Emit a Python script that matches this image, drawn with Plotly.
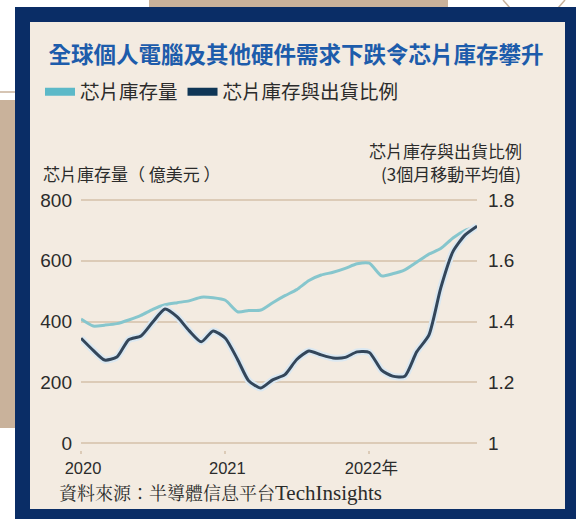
import pandas as pd
import plotly.graph_objects as go

# ---- data (monthly, Jan 2020 - Oct 2022) ----
months = pd.date_range("2020-01-01", periods=34, freq="MS")
inventory = [408, 385, 388, 393, 405, 420, 440, 455, 462, 468, 480, 478,
             470, 432, 436, 438, 462, 485, 505, 535, 553, 562, 575, 590,
             592, 550, 557, 570, 595, 622, 640, 675, 700, 714]
ratio = [1.345, 1.305, 1.273, 1.283, 1.340, 1.352, 1.398, 1.441, 1.415, 1.370, 1.333, 1.369,
         1.345, 1.275, 1.205, 1.181, 1.208, 1.225, 1.275, 1.303, 1.290, 1.280, 1.282, 1.300,
         1.298, 1.240, 1.220, 1.220, 1.300, 1.355, 1.510, 1.630, 1.685, 1.714]
left_ticks = [0, 200, 400, 600, 800]
right_ticks = [1, 1.2, 1.4, 1.6, 1.8]
right_ticktext = ["1", "1.2", "1.4", "1.6", "1.8"]
x_tickvals = ["2020-01-01", "2021-01-01", "2022-01-01"]
x_ticktext = ["2020", "2021", "2022年"]
name_inv = "芯片庫存量"
name_ratio = "芯片庫存與出貨比例"

W, H = 576, 519
ML, MR, MT, MB = 81, 99, 190, 69
PW, PH = W - ML - MR, H - MT - MB

def px(x):
    return (x - ML) / PW

def py(y):
    return (H - MB - y) / PH

LIGHT = "#86c6cd"
DARK = "#33465a"
TXT = "#2b2b2b"
GRID = "#dccbb7"
FONT = "Liberation Sans, Noto Sans CJK TC, sans-serif"
CJK = "Noto Sans CJK TC, sans-serif"

fig = go.Figure()
fig.add_trace(go.Scatter(x=months, y=inventory, mode="lines", name=name_inv,
                         line=dict(color=LIGHT, width=3, shape="spline", smoothing=0.6),
                         showlegend=False, hoverinfo="skip"))
fig.add_trace(go.Scatter(x=months, y=ratio, yaxis="y2", mode="lines", name=name_ratio + " halo",
                         line=dict(color="#dbe8f1", width=7, shape="spline", smoothing=0.6),
                         showlegend=False, hoverinfo="skip"))
fig.add_trace(go.Scatter(x=months, y=ratio, yaxis="y2", mode="lines", name=name_ratio,
                         line=dict(color=DARK, width=3, shape="spline", smoothing=0.6),
                         showlegend=False))
# legend swatches
fig.add_trace(go.Scatter(x=[None], y=[None], mode="lines", name=name_inv,
                         line=dict(color="#5cb9c8", width=8)))
fig.add_trace(go.Scatter(x=[None], y=[None], mode="lines", name=name_ratio,
                         line=dict(color="#0f3656", width=8)))

u = 800 / (443 - 200)
ymin = -(450 - 443) * u
ymax = 800 + (200 - 190) * u

shapes = [
    # decorative background pieces
    dict(type="rect", xref="paper", yref="paper", x0=px(149), x1=px(448), y0=py(0), y1=py(10),
         fillcolor="#c9b29b", line=dict(width=0), layer="below"),
    dict(type="rect", xref="paper", yref="paper", x0=px(0), x1=px(16), y0=py(100), y1=py(428),
         fillcolor="#c9b29b", line=dict(width=0), layer="below"),
    dict(type="line", xref="paper", yref="paper", x0=px(0), x1=px(16), y0=py(92), y1=py(92),
         line=dict(color="#c9b29b", width=1.5), layer="below"),
    dict(type="line", xref="paper", yref="paper", x0=px(503), x1=px(510), y0=py(0), y1=py(8),
         line=dict(color="#c9b29b", width=1.5), layer="below"),
    dict(type="line", xref="paper", yref="paper", x0=px(565), x1=px(558), y0=py(0), y1=py(8),
         line=dict(color="#c9b29b", width=1.5), layer="below"),
    # navy frame and beige panel
    dict(type="rect", xref="paper", yref="paper", x0=px(15), x1=px(577), y0=py(7), y1=py(520),
         fillcolor="#0a2d66", line=dict(width=0), layer="below"),
    dict(type="rect", xref="paper", yref="paper", x0=px(30), x1=px(565), y0=py(22), y1=py(509),
         fillcolor="#f3ebe1", line=dict(width=0), layer="below"),
]

annotations = [
    dict(text="芯片庫存量（ 億美元 ）", xref="paper", yref="paper", x=px(41), y=py(173),
         xanchor="left", yanchor="middle", showarrow=False,
         font=dict(family=CJK, size=17, color=TXT)),
    dict(text="芯片庫存與出貨比例", xref="paper", yref="paper", x=px(524), y=py(150),
         xanchor="right", yanchor="middle", showarrow=False,
         font=dict(family=CJK, size=17, color=TXT)),
    dict(text="(3個月移動平均值)", xref="paper", yref="paper", x=px(523), y=py(173),
         xanchor="right", yanchor="middle", showarrow=False,
         font=dict(family=CJK, size=17, color=TXT)),
    dict(text="資料來源：半導體信息平台<span style=\"font-size:21px\">TechInsights</span>",
         xref="paper", yref="paper",
         x=px(57), y=py(493), xanchor="left", yanchor="middle", showarrow=False,
         font=dict(family="Liberation Serif, Noto Serif CJK TC, Noto Sans CJK TC, serif",
                   size=18, color=TXT)),
]

fig.update_layout(
    width=W, height=H,
    margin=dict(l=ML, r=MR, t=MT, b=MB, pad=0),
    paper_bgcolor="white",
    plot_bgcolor="rgba(0,0,0,0)",
    title=dict(text="<b>全球個人電腦及其他硬件需求下跌令芯片庫存攀升</b>",
               xref="container", yref="container", x=296 / W, y=1 - 55 / H,
               xanchor="center", yanchor="middle",
               font=dict(family=CJK, size=22.5, color="#1d5cab")),
    legend=dict(orientation="h", xref="container", yref="container",
                x=40 / W, y=1 - 92 / H, xanchor="left", yanchor="middle",
                bgcolor="rgba(0,0,0,0)", itemwidth=30,
                font=dict(family=CJK, size=19.5, color=TXT)),
    xaxis=dict(type="date", range=["2020-01-01", "2022-10-01"],
               tickvals=x_tickvals, ticktext=x_ticktext,
               showgrid=False, zeroline=False, showline=False,
               ticks="outside", ticklen=3, tickcolor=GRID, tickwidth=1.5,
               ticklabelstandoff=0, ticklabelshift=2,
               tickfont=dict(family="Liberation Sans Narrow, Liberation Sans, Noto Sans CJK TC", size=16.5, color=TXT)),
    yaxis=dict(range=[ymin, ymax], tickvals=left_ticks,
               showgrid=True, gridcolor=GRID, gridwidth=2, zeroline=False,
               showline=False, ticks="", ticklabelstandoff=8,
               tickfont=dict(family=FONT, size=19, color=TXT)),
    yaxis2=dict(range=[1 + ymin / 1000, 1 + ymax / 1000], overlaying="y", side="right",
                tickvals=right_ticks, ticktext=right_ticktext,
                showgrid=False, zeroline=False, showline=False, ticks="",
                ticklabelstandoff=10,
                tickfont=dict(family=FONT, size=19, color=TXT)),
    shapes=shapes,
    annotations=annotations,
    hovermode=False,
)

fig.write_html("out.html", config={"displayModeBar": False},
               post_script=["document.body.style.margin='0';document.body.style.overflow='hidden';"])
